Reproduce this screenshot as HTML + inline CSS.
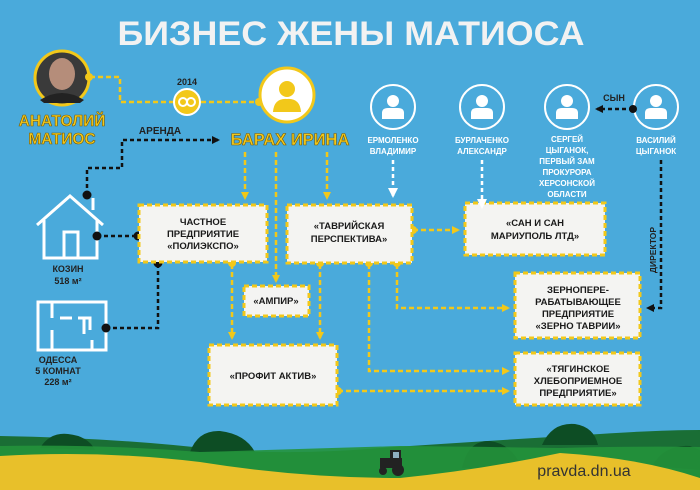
<!DOCTYPE html>
<html><head><meta charset="utf-8"><style>
html,body{margin:0;padding:0;background:#4aaadb;}
svg{display:block}
text{font-family:"Liberation Sans","DejaVu Sans",sans-serif;font-weight:bold}
</style></head><body>
<svg width="700" height="490" viewBox="0 0 700 490" xmlns="http://www.w3.org/2000/svg">
<defs>
<marker id="ay" markerWidth="8" markerHeight="8" refX="6" refY="4" orient="auto" markerUnits="userSpaceOnUse"><path d="M0,0 L8,4 L0,8 Z" fill="#f2c81a"/></marker>
<marker id="ak" markerWidth="8" markerHeight="8" refX="6" refY="4" orient="auto" markerUnits="userSpaceOnUse"><path d="M0,0 L8,4 L0,8 Z" fill="#111"/></marker>
<marker id="aw" markerWidth="10" markerHeight="10" refX="8" refY="5" orient="auto" markerUnits="userSpaceOnUse"><path d="M0,0 L10,5 L0,10 Z" fill="#fff"/></marker>
</defs>
<rect width="700" height="490" fill="#4aaadb"/>
<text x="351" y="45" font-size="34" fill="#f2f2f2" text-anchor="middle" textLength="467" lengthAdjust="spacingAndGlyphs">БИЗНЕС ЖЕНЫ МАТИОСА</text>

<circle cx="62" cy="78" r="27" fill="#3a3a3a" stroke="#f2c81a" stroke-width="3"/>
<ellipse cx="62" cy="74" rx="13" ry="16" fill="#b58d7a"/>
<path d="M40,100 Q62,86 84,100 L80,103 L44,103Z" fill="#222"/>
<text x="62" y="126" font-size="15.5" fill="#f2c81a" stroke="#7a5a00" stroke-width="0.6" text-anchor="middle">АНАТОЛИЙ</text>
<text x="62" y="144" font-size="15.5" fill="#f2c81a" stroke="#7a5a00" stroke-width="0.6" text-anchor="middle">МАТИОС</text>

<path d="M90,77 H120 V102 H260" fill="none" stroke="#f2c81a" stroke-width="2.5" stroke-dasharray="5,3"/>
<circle cx="89" cy="77" r="4" fill="#f2c81a"/>
<circle cx="259" cy="102" r="4" fill="#f2c81a"/>
<circle cx="187" cy="102" r="13" fill="#f2c81a" stroke="#fff" stroke-width="2"/>
<circle cx="183" cy="102" r="4" fill="none" stroke="#fff" stroke-width="2"/>
<circle cx="191" cy="102" r="4" fill="none" stroke="#fff" stroke-width="2"/>
<text x="187" y="85" font-size="9" fill="#222" text-anchor="middle">2014</text>

<circle cx="287" cy="95" r="27" fill="#fff" stroke="#f2c81a" stroke-width="3"/>
<circle cx="287" cy="89" r="8" fill="#f2c81a"/>
<path d="M273,112 Q274,98 287,99 Q300,98 301,112Z" fill="#f2c81a"/>
<text x="290" y="145" font-size="16.5" fill="#f2c81a" stroke="#7a5a00" stroke-width="0.6" text-anchor="middle">БАРАХ ИРИНА</text>

<text x="160" y="134" font-size="10" fill="#222" text-anchor="middle">АРЕНДА</text>
<path d="M87,195 V168 H122 V140 H218" fill="none" stroke="#111" stroke-width="2.5" stroke-dasharray="4,3" marker-end="url(#ak)"/>
<circle cx="87" cy="195" r="4.5" fill="#111"/>

<g fill="none" stroke="#fff" stroke-width="3">
<path d="M37,225 L70,196 L103,225"/>
<path d="M44,220 V258 H97 V220"/>
<path d="M93,210 V198"/>
<rect x="64" y="232" width="14" height="26"/>
</g>
<path d="M97,236 H138" stroke="#111" stroke-width="2.5" stroke-dasharray="4,3"/>
<circle cx="97" cy="236" r="4.5" fill="#111"/><circle cx="138" cy="236" r="4.5" fill="#111"/>
<text x="68" y="272" font-size="9" fill="#222" text-anchor="middle">КОЗИН</text>
<text x="68" y="284" font-size="9" fill="#222" text-anchor="middle">518 м²</text>

<g fill="none" stroke="#fff" stroke-width="3">
<rect x="38" y="302" width="68" height="48"/>
<path d="M52,302 V318 M52,330 V350 M60,318 H72 M78,318 H90 V330 M84,318 V334 M92,340 V350"/>
</g>
<path d="M106,328 H158 V263" fill="none" stroke="#111" stroke-width="2.5" stroke-dasharray="4,3"/>
<circle cx="106" cy="328" r="4.5" fill="#111"/><circle cx="158" cy="263" r="4.5" fill="#111"/>
<text x="58" y="363" font-size="9" fill="#222" text-anchor="middle">ОДЕССА</text>
<text x="58" y="374" font-size="9" fill="#222" text-anchor="middle">5 КОМНАТ</text>
<text x="58" y="385" font-size="9" fill="#222" text-anchor="middle">228 м²</text>

<g fill="none" stroke="#f2c81a" stroke-width="2.5" stroke-dasharray="5,3">
<path d="M245,152 V198" marker-end="url(#ay)"/>
<path d="M276,152 V281" marker-end="url(#ay)"/>
<path d="M327,152 V198" marker-end="url(#ay)"/>
<path d="M232,264 V338" marker-end="url(#ay)"/>
<path d="M320,264 V338" marker-end="url(#ay)"/>
<path d="M369,264 V371 H508" marker-end="url(#ay)"/>
<path d="M397,264 V308 H508" marker-end="url(#ay)"/>
<path d="M413,230 H458" marker-end="url(#ay)"/>
<path d="M338,391 H508" marker-end="url(#ay)"/>
</g>
<g fill="#f2c81a">
<circle cx="232" cy="263" r="4"/><circle cx="320" cy="263" r="4"/><circle cx="369" cy="263" r="4"/><circle cx="397" cy="263" r="4"/><circle cx="413" cy="230" r="4"/><circle cx="338" cy="391" r="4"/>
</g>

<g fill="#f4f4f2" stroke="#f2c81a" stroke-width="3" stroke-dasharray="5,3">
<rect x="139" y="205" width="128" height="57"/>
<rect x="287" y="205" width="125" height="58"/>
<rect x="465" y="203" width="140" height="52"/>
<rect x="244" y="286" width="65" height="30"/>
<rect x="209" y="345" width="128" height="60"/>
<rect x="515" y="273" width="125" height="65"/>
<rect x="515" y="353" width="125" height="52"/>
</g>
<g font-size="9.5" fill="#1a1a1a" text-anchor="middle">
<text x="203" y="225">ЧАСТНОЕ</text>
<text x="203" y="237">ПРЕДПРИЯТИЕ</text>
<text x="203" y="249">«ПОЛИЭКСПО»</text>
<text x="349" y="229">«ТАВРИЙСКАЯ</text>
<text x="349" y="242">ПЕРСПЕКТИВА»</text>
<text x="535" y="226">«САН И САН</text>
<text x="535" y="239">МАРИУПОЛЬ ЛТД»</text>
<text x="276" y="304">«АМПИР»</text>
<text x="273" y="379">«ПРОФИТ  АКТИВ»</text>
<text x="578" y="293">ЗЕРНОПЕРЕ-</text>
<text x="578" y="305">РАБАТЫВАЮЩЕЕ</text>
<text x="578" y="317">ПРЕДПРИЯТИЕ</text>
<text x="578" y="329">«ЗЕРНО ТАВРИИ»</text>
<text x="578" y="372">«ТЯГИНСКОЕ</text>
<text x="578" y="384">ХЛЕБОПРИЕМНОЕ</text>
<text x="578" y="396">ПРЕДПРИЯТИЕ»</text>
</g>

<g fill="none" stroke="#fff" stroke-width="2">
<circle cx="393" cy="107" r="22"/><circle cx="482" cy="107" r="22"/><circle cx="567" cy="107" r="22"/><circle cx="656" cy="107" r="22"/>
</g>
<g fill="#fff">
<g transform="translate(393,107)"><circle cx="0" cy="-6" r="6"/><path d="M-11,12 V6 Q-11,1 -5,1 H5 Q11,1 11,6 V12Z"/></g>
<g transform="translate(482,107)"><circle cx="0" cy="-6" r="6"/><path d="M-11,12 V6 Q-11,1 -5,1 H5 Q11,1 11,6 V12Z"/></g>
<g transform="translate(567,107)"><circle cx="0" cy="-6" r="6"/><path d="M-11,12 V6 Q-11,1 -5,1 H5 Q11,1 11,6 V12Z"/></g>
<g transform="translate(656,107)"><circle cx="0" cy="-6" r="6"/><path d="M-11,12 V6 Q-11,1 -5,1 H5 Q11,1 11,6 V12Z"/></g>
</g>
<g font-size="8" fill="#fff" text-anchor="middle">
<text x="393" y="143">ЕРМОЛЕНКО</text><text x="393" y="154">ВЛАДИМИР</text>
<text x="482" y="143">БУРЛАЧЕНКО</text><text x="482" y="154">АЛЕКСАНДР</text>
<text x="567" y="142">СЕРГЕЙ</text><text x="567" y="153">ЦЫГАНОК,</text><text x="567" y="164">ПЕРВЫЙ ЗАМ</text><text x="567" y="175">ПРОКУРОРА</text><text x="567" y="186">ХЕРСОНСКОЙ</text><text x="567" y="197">ОБЛАСТИ</text>
<text x="656" y="143">ВАСИЛИЙ</text><text x="656" y="154">ЦЫГАНОК</text>
</g>
<g fill="none" stroke="#fff" stroke-width="2.5" stroke-dasharray="4,3">
<path d="M393,160 V196" marker-end="url(#aw)"/>
<path d="M482,160 V207" marker-end="url(#aw)"/>
</g>
<text x="614" y="101" font-size="9" fill="#222" text-anchor="middle">СЫН</text>
<path d="M633,109 H597" fill="none" stroke="#111" stroke-width="2.5" stroke-dasharray="4,3" marker-end="url(#ak)"/>
<circle cx="633" cy="109" r="4" fill="#111"/>
<path d="M661,160 V308 H648" fill="none" stroke="#111" stroke-width="2.5" stroke-dasharray="4,3" marker-end="url(#ak)"/>
<text transform="translate(656,250) rotate(-90)" font-size="8.5" fill="#222" text-anchor="middle">ДИРЕКТОР</text>

<!-- landscape -->
<path d="M0,436 Q120,438 220,450 Q300,455 380,448 Q500,440 600,434 Q660,430 700,430 V490 H0Z" fill="#1a6e35"/>
<path d="M40,448 Q50,432 68,434 Q88,436 95,450Z M190,452 Q198,430 220,431 Q245,434 255,452Z M462,468 Q468,440 490,441 Q512,444 522,468Z M542,445 Q552,422 575,424 Q594,427 598,445Z M652,466 Q665,444 690,446 L700,450 V470Z" fill="#0d4d24"/>
<path d="M0,446 Q100,444 200,452 Q300,449 400,446 Q500,447 560,448 Q640,446 700,447 V490 H0Z" fill="#23923b" opacity="0.9"/>
<path d="M0,456 Q100,450 200,462 Q300,478 400,478 Q480,470 560,453 Q640,458 700,478 V490 H0Z" fill="#e8c02a"/>
<g fill="#222">
<rect x="380" y="458" width="22" height="10"/><rect x="390" y="450" width="11" height="10"/>
<circle cx="398" cy="470" r="6"/><circle cx="383" cy="471" r="4"/>
</g>
<rect x="393" y="452" width="6" height="6" fill="#8fb0c0"/>
<text x="584" y="476" font-size="16" fill="#333" text-anchor="middle" style="font-weight:normal">pravda.dn.ua</text>
</svg>
</body></html>
